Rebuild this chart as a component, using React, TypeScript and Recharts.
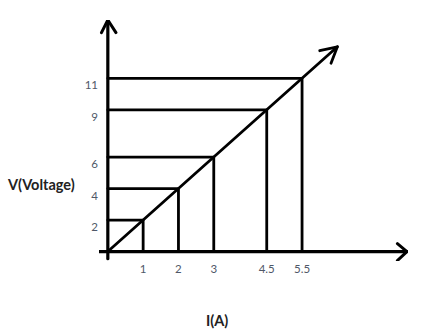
import React from "react";
import { LineChart, Line, XAxis, YAxis } from "recharts";

// Data
const currentA = [1, 2, 3, 4.5, 5.5];
const voltageV = [2, 4, 6, 9, 11];
const xTickValues = [1, 2, 3, 4.5, 5.5];
const xTickLabels = ["1", "2", "3", "4.5", "5.5"];
const yTickValues = [2, 4, 6, 9, 11];
const yTickLabels = ["2", "4", "6", "9", "11"];

// Axis extents (data units)
const X_DOMAIN: [number, number] = [-0.25, 8.5];
const Y_DOMAIN: [number, number] = [-0.6, 14.7];
const X_AXIS_START = -0.25;
const X_AXIS_END = 8.47;
const Y_AXIS_START = -0.45;
const Y_AXIS_END = 14.7;
const LINE_END = { x: 6.5, y: 13 };

const points = currentA.map((x, i) => ({ x, y: voltageV[i] }));
const diagonal = [{ x: 0, y: 0 }, ...points, LINE_END];
const dropLines = points.map((p) => [
  { x: 0, y: p.y },
  { x: p.x, y: p.y },
  { x: p.x, y: 0 },
]);
const xAxisLine = [
  { x: X_AXIS_START, y: 0 },
  { x: X_AXIS_END, y: 0 },
];
const yAxisLine = [
  { x: 0, y: Y_AXIS_START },
  { x: 0, y: Y_AXIS_END },
];
const yArrow = [
  { x: -0.18, y: 13.9 },
  { x: 0, y: Y_AXIS_END },
  { x: 0.23, y: 13.9 },
];
const xArrow = [
  { x: 8.2, y: 0.5 },
  { x: X_AXIS_END, y: 0 },
  { x: 8.2, y: -0.57 },
];
const diagArrow = [
  { x: 6.0, y: 12.75 },
  { x: LINE_END.x, y: LINE_END.y },
  { x: 6.32, y: 11.95 },
];

const TICK_COLOR = "#4f5868";
const FONT = "Lato, 'Open Sans', sans-serif";

const XTick = (props: any) => {
  const { x, y, payload } = props;
  const idx = xTickValues.indexOf(payload.value);
  return (
    <text x={x} y={y} dy="0.35em" textAnchor="middle" fontSize={11.5} fill={TICK_COLOR} fontFamily={FONT}>
      {idx >= 0 ? xTickLabels[idx] : payload.value}
    </text>
  );
};

const YTick = (props: any) => {
  const { x, y, payload } = props;
  const idx = yTickValues.indexOf(payload.value);
  return (
    <text x={x} y={y + 7} dy="0.35em" textAnchor="end" fontSize={11.5} fill={TICK_COLOR} fontFamily={FONT}>
      {idx >= 0 ? yTickLabels[idx] : payload.value}
    </text>
  );
};

const common = {
  type: "linear" as const,
  dataKey: "y",
  stroke: "#000",
  dot: false,
  activeDot: false,
  isAnimationActive: false,
  strokeLinecap: "round" as const,
  strokeLinejoin: "round" as const,
  legendType: "none" as const,
};

export default function App() {
  return (
    <div style={{ position: "absolute", left: 0, top: 0, width: 427, height: 329, background: "#fff" }}>
      <LineChart width={427} height={329} margin={{ top: 20, right: 19, bottom: 0, left: 0 }}>
        <XAxis
          type="number"
          dataKey="x"
          domain={X_DOMAIN}
          ticks={xTickValues}
          interval={0}
          axisLine={false}
          tickLine={false}
          tickSize={0}
          tickMargin={8}
          height={68}
          tick={<XTick />}
          allowDataOverflow
        />
        <YAxis
          type="number"
          dataKey="y"
          domain={Y_DOMAIN}
          ticks={yTickValues}
          interval={0}
          axisLine={false}
          tickLine={false}
          tickSize={0}
          tickMargin={1}
          width={99}
          tick={<YTick />}
          allowDataOverflow
        />
        {dropLines.map((d, i) => (
          <Line key={"drop" + i} {...common} data={d} strokeWidth={2.8} />
        ))}
        <Line {...common} data={xAxisLine} strokeWidth={3.2} />
        <Line {...common} data={yAxisLine} strokeWidth={3.2} />
        <Line {...common} data={diagonal} strokeWidth={2.8} />
        <Line {...common} data={yArrow} strokeWidth={3} />
        <Line {...common} data={xArrow} strokeWidth={3} />
        <Line {...common} data={diagArrow} strokeWidth={2.8} />
      </LineChart>
      <div
        style={{
          position: "absolute",
          left: 8,
          top: 175,
          fontFamily: FONT,
          fontWeight: 700,
          fontSize: 14.5,
          color: "#222",
          whiteSpace: "nowrap",
          lineHeight: "20px",
        }}
      >
        V(Voltage)
      </div>
      <div
        style={{
          position: "absolute",
          left: 206,
          top: 311,
          fontFamily: FONT,
          fontWeight: 700,
          fontSize: 14.5,
          color: "#222",
          whiteSpace: "nowrap",
          lineHeight: "20px",
        }}
      >
        I(A)
      </div>
    </div>
  );
}
